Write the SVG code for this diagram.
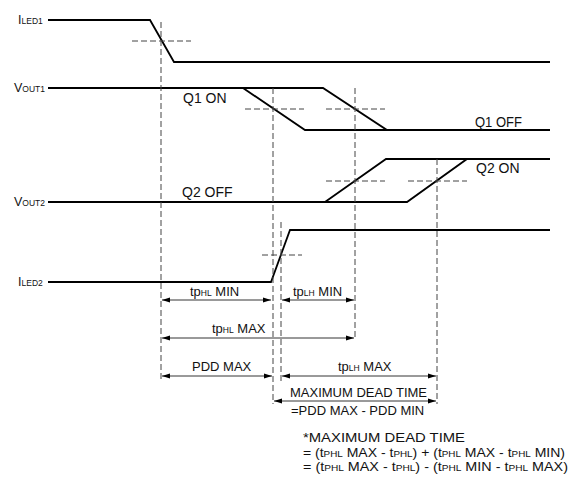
<svg xmlns="http://www.w3.org/2000/svg" width="580" height="481" viewBox="0 0 580 481">
<defs>
<style>
.sig{fill:none;stroke:#000;stroke-width:1.8;stroke-linejoin:miter}
.dash{fill:none;stroke:#444;stroke-width:1;stroke-dasharray:6,3}
.dim{fill:none;stroke:#000;stroke-width:0.8;marker-start:url(#ah);marker-end:url(#ah)}
text{font-family:"Liberation Sans",Arial,Helvetica,sans-serif;font-size:13px;fill:#111}
.lbl{font-size:12.5px}
.sm{font-size:8.5px}
.q{font-size:14px}
.eq{font-size:13.5px}
.sub{font-size:9.5px}
</style>
<marker id="ah" viewBox="0 0 8 6" refX="8" refY="3" markerWidth="8" markerHeight="6" orient="auto-start-reverse" markerUnits="userSpaceOnUse">
<path d="M0,0.5 L8,3 L0,5.5 Z" fill="#000"/>
</marker>
</defs>
<rect width="580" height="481" fill="#fff"/>

<g id="iled1">
<text class="lbl" x="18" y="24">I<tspan class="sm">LED1</tspan></text>
<path class="sig" d="M48,20 H150 L174,62 H550"/>
<line class="dash" x1="132" y1="41" x2="191" y2="41"/>
</g>

<g id="vout1">
<text class="lbl" x="14" y="92">V<tspan class="sm">OUT1</tspan></text>
<path class="sig" d="M48,88 H323 L387,130 H550"/>
<path class="sig" d="M243,88 L305,130 H387"/>
<line class="dash" x1="245" y1="109" x2="304" y2="109"/>
<line class="dash" x1="326" y1="109" x2="385" y2="109"/>
<text class="q" x="183" y="103">Q1 ON</text>
<text class="q" x="475" y="127" textLength="47" lengthAdjust="spacingAndGlyphs">Q1 OFF</text>
</g>

<g id="vout2">
<text class="lbl" x="14" y="206">V<tspan class="sm">OUT2</tspan></text>
<path class="sig" d="M48,202 H407 L467,159 H550"/>
<path class="sig" d="M325,202 L386,159 H467"/>
<line class="dash" x1="326" y1="181" x2="385" y2="181"/>
<line class="dash" x1="408" y1="181" x2="467" y2="181"/>
<text class="q" x="182" y="197">Q2 OFF</text>
<text class="q" x="476" y="173">Q2 ON</text>
</g>

<g id="iled2">
<text class="lbl" x="18" y="286">I<tspan class="sm">LED2</tspan></text>
<path class="sig" d="M48,282 H271 L290,230 H550"/>
<line class="dash" x1="262" y1="255" x2="302" y2="255"/>
</g>

<g id="connectors">
<line class="dash" x1="161" y1="22" x2="161" y2="381"/>
<line class="dash" x1="273" y1="88" x2="273" y2="404"/>
<line class="dash" x1="281" y1="222" x2="281" y2="381"/>
<line class="dash" x1="355" y1="88" x2="355" y2="339"/>
<line class="dash" x1="437" y1="159" x2="437" y2="404"/>

<line class="dim" x1="162" y1="300" x2="271" y2="300"/>
<line class="dim" x1="282" y1="300" x2="354" y2="300"/>
<line class="dim" x1="162" y1="338" x2="354" y2="338"/>
<line class="dim" x1="162" y1="376" x2="272" y2="376"/>
<line class="dim" x1="282" y1="376" x2="436" y2="376"/>
<line class="dim" x1="274" y1="401" x2="436" y2="401"/>
</g>

<g id="labels">
<text x="190" y="296">tp<tspan class="sm">HL</tspan> MIN</text>
<text x="293" y="296">tp<tspan class="sm">LH</tspan> MIN</text>
<text x="212" y="333">tp<tspan class="sm">HL</tspan> MAX</text>
<text x="192" y="371">PDD MAX</text>
<text x="338" y="371">tp<tspan class="sm">LH</tspan> MAX</text>
<text x="290" y="397">MAXIMUM DEAD TIME</text>
<text x="291" y="415">=PDD MAX - PDD MIN</text>
<text class="eq" x="303" y="442" textLength="162" lengthAdjust="spacingAndGlyphs">*MAXIMUM DEAD TIME</text>
<text class="eq" x="303" y="457" textLength="262" lengthAdjust="spacingAndGlyphs">= (t<tspan class="sub">PHL</tspan> MAX - t<tspan class="sub">PHL</tspan>) + (t<tspan class="sub">PHL</tspan> MAX - t<tspan class="sub">PHL</tspan> MIN)</text>
<text class="eq" x="303" y="471" textLength="265" lengthAdjust="spacingAndGlyphs">= (t<tspan class="sub">PHL</tspan> MAX - t<tspan class="sub">PHL</tspan>) - (t<tspan class="sub">PHL</tspan> MIN - t<tspan class="sub">PHL</tspan> MAX)</text>
</g>
</svg>
